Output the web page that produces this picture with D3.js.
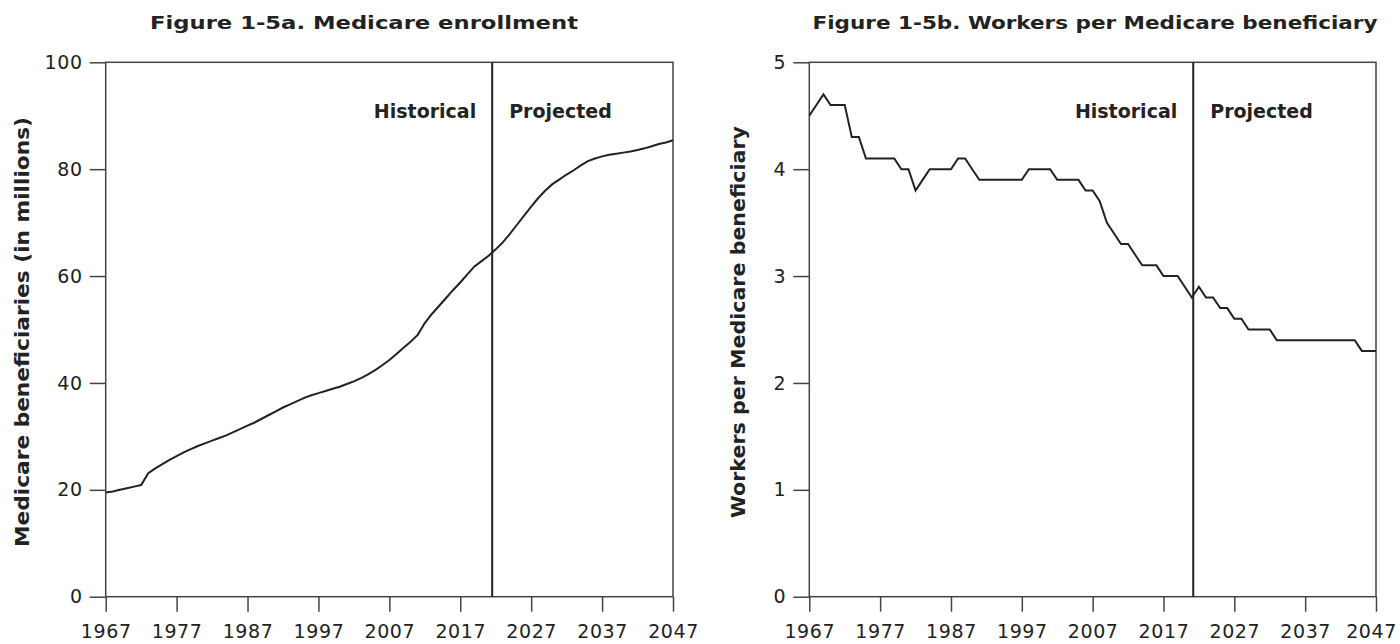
<!DOCTYPE html>
<html>
<head>
<meta charset="utf-8">
<script src="https://cdn.jsdelivr.net/npm/d3@7"></script>
<style>
  html, body { margin: 0; padding: 0; background: #fff; }
  svg { display: block; }
  text { font-family: "DejaVu Sans", sans-serif; fill: #222; }
</style>
</head>
<body>
<svg id="chart" width="1400" height="644"></svg>
<script>
// ---------- DATA ----------
const years = d3.range(1967, 2048);
const xTickYears = [1967, 1977, 1987, 1997, 2007, 2017, 2027, 2037, 2047];

const enrollmentMillions = [
  19.5, 19.7, 20.0, 20.3, 20.6, 20.9, 23.1, 24.0, 24.8, 25.6,
  26.3, 27.0, 27.6, 28.2, 28.7, 29.2, 29.7, 30.2, 30.8, 31.4,
  32.0, 32.6, 33.3, 34.0, 34.7, 35.4, 36.0, 36.6, 37.2, 37.7,
  38.1, 38.5, 38.9, 39.3, 39.8, 40.3, 40.9, 41.6, 42.4, 43.3,
  44.3, 45.4, 46.6, 47.7, 49.0, 51.2, 52.9, 54.4, 55.9, 57.4,
  58.8, 60.3, 61.8, 62.8, 63.8, 65.0, 66.3, 67.9, 69.6, 71.3,
  73.0, 74.6, 76.0, 77.2, 78.1, 79.0, 79.8, 80.7, 81.5, 82.0,
  82.4, 82.7, 82.9, 83.1, 83.3, 83.6, 83.9, 84.3, 84.7, 85.0,
  85.4
];

const workersPerBeneficiary = [
  4.5, 4.6, 4.7, 4.6, 4.6, 4.6, 4.3, 4.3, 4.1, 4.1,
  4.1, 4.1, 4.1, 4.0, 4.0, 3.8, 3.9, 4.0, 4.0, 4.0,
  4.0, 4.1, 4.1, 4.0, 3.9, 3.9, 3.9, 3.9, 3.9, 3.9,
  3.9, 4.0, 4.0, 4.0, 4.0, 3.9, 3.9, 3.9, 3.9, 3.8,
  3.8, 3.7, 3.5, 3.4, 3.3, 3.3, 3.2, 3.1, 3.1, 3.1,
  3.0, 3.0, 3.0, 2.9, 2.8, 2.9, 2.8, 2.8, 2.7, 2.7,
  2.6, 2.6, 2.5, 2.5, 2.5, 2.5, 2.4, 2.4, 2.4, 2.4,
  2.4, 2.4, 2.4, 2.4, 2.4, 2.4, 2.4, 2.4, 2.3, 2.3,
  2.3
];

const enrollmentTicks = [0, 20, 40, 60, 80, 100];
const workersTicks = [0, 1, 2, 3, 4, 5];

const panelTitles = ["Figure 1-5a. Medicare enrollment", "Figure 1-5b. Workers per Medicare beneficiary"];
const yAxisTitles = ["Medicare beneficiaries (in millions)", "Workers per Medicare beneficiary"];
const periodLabels = ["Historical", "Projected"];
const dividerYears = [2021.5, 2021.2];

// ---------- DRAW ----------
const svg = d3.select("#chart");

function drawPanel(opts) {
  const { left, right, top, bottom, values, yMax, yTicks, title, titleX, titleLen,
          yTitle, yTitleX, yTitleY, yTitleLen, divider, lastLabelShift } = opts;
  const g = svg.append("g");

  const x = d3.scaleLinear().domain([years[0], years[years.length - 1]]).range([left, right]);
  const y = d3.scaleLinear().domain([0, yMax]).range([bottom, top]);

  // title
  g.append("text")
    .attr("x", titleX).attr("y", 29)
    .attr("text-anchor", "middle")
    .attr("textLength", titleLen).attr("lengthAdjust", "spacingAndGlyphs")
    .style("font-size", "18px").style("font-weight", "bold")
    .text(title);

  // y axis title
  g.append("text")
    .attr("transform", `translate(${yTitleX},${yTitleY}) rotate(-90)`)
    .attr("text-anchor", "middle")
    .attr("textLength", yTitleLen).attr("lengthAdjust", "spacingAndGlyphs")
    .style("font-size", "20px").style("font-weight", "bold")
    .text(yTitle);

  // x axis
  const xAxis = g.append("g")
    .attr("transform", `translate(0,${bottom})`)
    .call(d3.axisBottom(x).tickValues(xTickYears).tickSize(15).tickPadding(13).tickFormat(d3.format("d")));
  xAxis.select(".domain").remove();
  xAxis.selectAll("line").attr("stroke", "#444").attr("stroke-width", 1.5);
  xAxis.selectAll("text").style("font-size", "19px").style("letter-spacing", "0.6px").attr("fill", "#222");
  xAxis.selectAll(".tick").filter(d => d === xTickYears[xTickYears.length - 1])
    .select("text").attr("dx", -lastLabelShift);

  // y axis
  const yAxis = g.append("g")
    .attr("transform", `translate(${left},0)`)
    .call(d3.axisLeft(y).tickValues(yTicks).tickSize(16).tickPadding(7).tickFormat(d3.format("d")));
  yAxis.select(".domain").remove();
  yAxis.selectAll("line").attr("stroke", "#444").attr("stroke-width", 1.5);
  yAxis.selectAll("text").style("font-size", "19px").style("letter-spacing", "0.6px").attr("fill", "#222");

  // frame
  g.append("rect")
    .attr("x", left).attr("y", top)
    .attr("width", right - left).attr("height", bottom - top)
    .attr("fill", "none").attr("stroke", "#444").attr("stroke-width", 1.5);

  // divider
  const dx = x(divider);
  g.append("line")
    .attr("x1", dx).attr("x2", dx).attr("y1", top).attr("y2", bottom)
    .attr("stroke", "#222").attr("stroke-width", 2);

  g.append("text")
    .attr("x", dx - 16).attr("y", 118)
    .attr("text-anchor", "end")
    .style("font-size", "19px").style("font-weight", "bold")
    .text(periodLabels[0]);
  g.append("text")
    .attr("x", dx + 17).attr("y", 118)
    .attr("text-anchor", "start")
    .style("font-size", "19px").style("font-weight", "bold")
    .text(periodLabels[1]);

  // line
  const line = d3.line().x((d, i) => x(years[i])).y(d => y(d));
  g.append("path")
    .datum(values)
    .attr("d", line)
    .attr("fill", "none")
    .attr("stroke", "#222")
    .attr("stroke-width", 2)
    .attr("stroke-linejoin", "miter");
}

drawPanel({
  left: 105.7, right: 673, top: 62.3, bottom: 596.7,
  values: enrollmentMillions, yMax: 100, yTicks: enrollmentTicks,
  title: panelTitles[0], titleX: 364, titleLen: 428,
  yTitle: yAxisTitles[0], yTitleX: 29, yTitleY: 332, yTitleLen: 430,
  divider: dividerYears[0], lastLabelShift: 0
});

drawPanel({
  left: 809.3, right: 1376, top: 62.3, bottom: 596.7,
  values: workersPerBeneficiary, yMax: 5, yTicks: workersTicks,
  title: panelTitles[1], titleX: 1095, titleLen: 565,
  yTitle: yAxisTitles[1], yTitleX: 745, yTitleY: 322, yTitleLen: 392,
  divider: dividerYears[1], lastLabelShift: 5
});
</script>
</body>
</html>
